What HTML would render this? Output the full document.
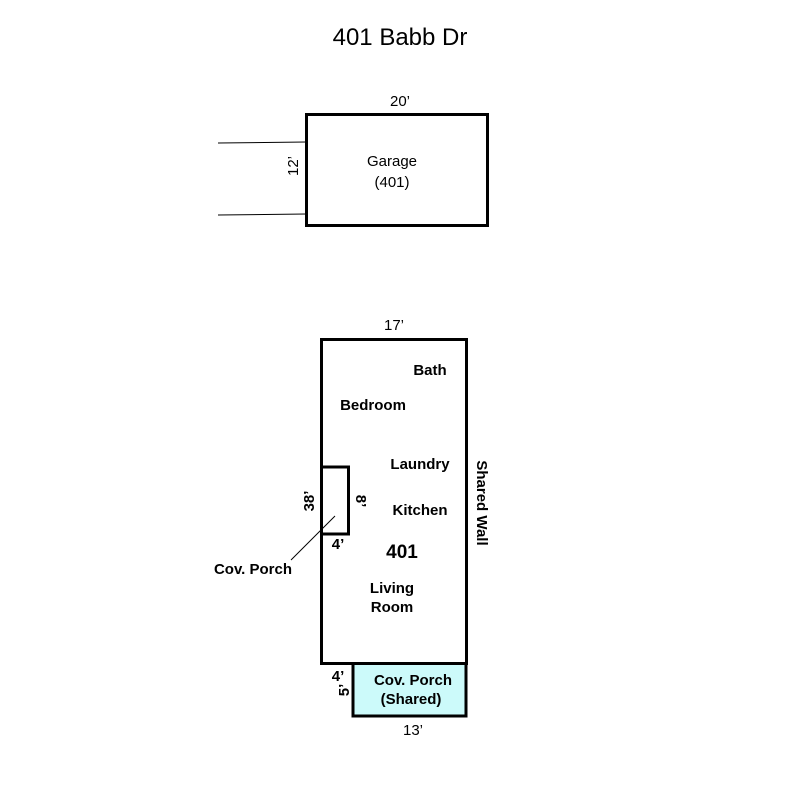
<!DOCTYPE html>
<html><head><style>body{margin:0;background:#fff}</style></head><body>
<svg width="800" height="800" xmlns="http://www.w3.org/2000/svg" font-family="Liberation Sans, sans-serif" fill="#000">
<rect width="800" height="800" fill="#fff"/>
<text x="400" y="45" font-size="24" text-anchor="middle">401 Babb Dr</text>
<line x1="218" y1="143" x2="306" y2="142" stroke="#000" stroke-width="1"/>
<line x1="218" y1="215" x2="306" y2="214" stroke="#000" stroke-width="1"/>
<rect x="306.5" y="114.5" width="181" height="111" fill="none" stroke="#000" stroke-width="3"/>
<text x="400" y="106" font-size="15" text-anchor="middle">20’</text>
<text transform="translate(298,166) rotate(-90)" font-size="15" text-anchor="middle">12’</text>
<text x="392" y="166" font-size="15" text-anchor="middle">Garage</text>
<text x="392" y="187" font-size="15" text-anchor="middle">(401)</text>

<rect x="354" y="664" width="112" height="52" fill="#ccfafa"/>
<rect x="321.5" y="339.5" width="145" height="324" fill="none" stroke="#000" stroke-width="3"/>
<rect x="321.5" y="467" width="27" height="67" fill="#fff" stroke="#000" stroke-width="3"/>
<polyline points="353,664 353,716 466,716 466,664" fill="none" stroke="#000" stroke-width="3"/>
<line x1="335" y1="516" x2="291" y2="560" stroke="#000" stroke-width="1"/>
<text x="394" y="330" font-size="15" text-anchor="middle">17’</text>
<g font-size="15" font-weight="bold" text-anchor="middle">
<text x="430" y="375">Bath</text>
<text x="373" y="410">Bedroom</text>
<text x="420" y="469">Laundry</text>
<text x="420" y="515">Kitchen</text>
<text x="392" y="593">Living</text>
<text x="392" y="612">Room</text>
<text x="413" y="685">Cov. Porch</text>
<text x="411" y="704">(Shared)</text>
<text x="253" y="574">Cov. Porch</text>
<text x="402" y="558" font-size="19">401</text>
<text transform="translate(477,503) rotate(90)">Shared Wall</text>
<text transform="translate(314,501) rotate(-90)">38’</text>
<text transform="translate(356,501) rotate(90)">8’</text>
<text x="338" y="549">4’</text>
<text x="338" y="681">4’</text>
<text transform="translate(349,690) rotate(-90)">5’</text>
</g>
<text x="413" y="735" font-size="15" text-anchor="middle">13’</text>
</svg>
</body></html>
